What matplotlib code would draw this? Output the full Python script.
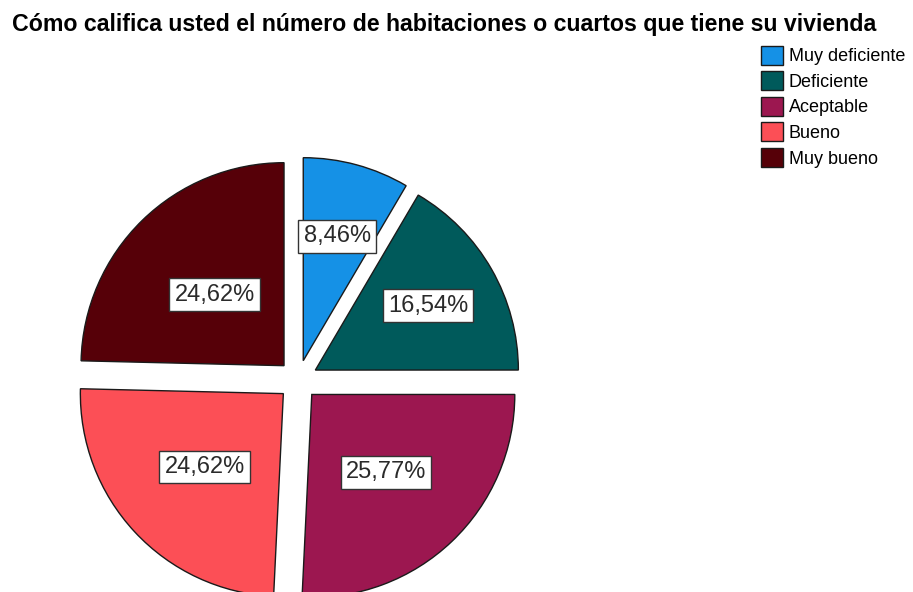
import math
import matplotlib
matplotlib.use("Agg")
import matplotlib.pyplot as plt

title = "Cómo califica usted el número de habitaciones o cuartos que tiene su vivienda"
categories = ["Muy deficiente", "Deficiente", "Aceptable", "Bueno", "Muy bueno"]
percentages = [8.46, 16.54, 25.77, 24.62, 24.62]
colors = ["#1591E6", "#005A5B", "#9C1750", "#FC4F56", "#560008"]
label_frac = [0.635, 0.64, 0.53, 0.53, 0.49]

plt.rcParams['font.family'] = ['Liberation Sans', 'DejaVu Sans']

W, H = 913, 592
fig = plt.figure(figsize=(W / 100, H / 100), dpi=100)
ax = fig.add_axes([0, 0, 1, 1])

cx, cy, r = 298, H - 380, 203
wedges, _ = ax.pie(percentages, colors=colors, startangle=90, counterclock=False,
                   radius=r, center=(cx, cy), explode=[20] * len(percentages),
                   wedgeprops=dict(edgecolor="#1a1a1a", linewidth=1.0),
                   frame=True)

for w, p, f in zip(wedges, percentages, label_frac):
    thm = math.radians(0.5 * (w.theta1 + w.theta2))
    x0, y0 = w.center
    tx = x0 + f * r * math.cos(thm)
    ty = y0 + f * r * math.sin(thm)
    ax.text(tx, ty, f"{p:.2f}%".replace(".", ","), ha="center", va="center",
            fontsize=17, color="#2a2a2a",
            bbox=dict(boxstyle="square,pad=0.22", facecolor="white",
                      edgecolor="#333333", linewidth=1.0))

ax.set_xlim(0, W)
ax.set_ylim(0, H)
ax.set_aspect("auto")
ax.axis("off")

fig.text(12 / W, 1 - 24 / H, title, ha="left", va="center",
         fontsize=16.7, fontweight="bold", color="black")

leg = fig.legend(wedges, categories, loc="upper left",
                 bbox_to_anchor=(757 / W, 1 - 42 / H), frameon=False,
                 fontsize=13, handlelength=1.25, handleheight=1.25,
                 handletextpad=0.3, labelspacing=0.33, borderpad=0.2,
                 borderaxespad=0)

fig.savefig("out.png", dpi=100)
